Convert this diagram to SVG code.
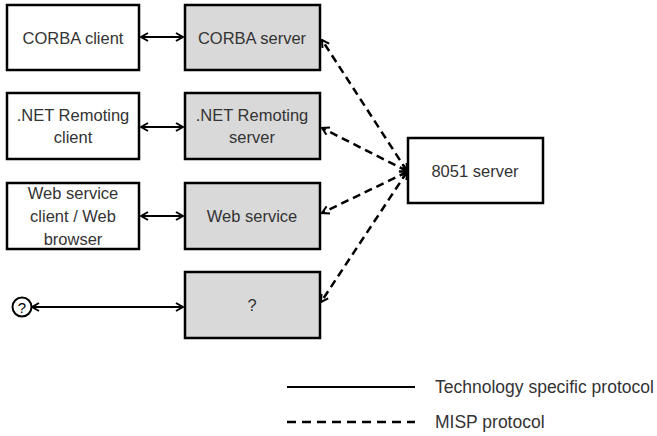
<svg xmlns="http://www.w3.org/2000/svg" width="657" height="436" viewBox="0 0 657 436">
<style>
.box{stroke:#000;stroke-width:2.5;fill:#fff}
.srv{fill:#d9d9d9}
.t{font-family:"Liberation Sans",Arial,sans-serif;font-size:16.5px;fill:#333;text-anchor:middle}
.tl{font-family:"Liberation Sans",Arial,sans-serif;font-size:17.5px;fill:#333}
.solid{stroke:#000;stroke-width:2.2;fill:none}
.dash{stroke:#000;stroke-width:2.5;fill:none;stroke-dasharray:8 5}
</style>
<defs>
<marker id="ah" viewBox="0 0 10 10" refX="9" refY="5" markerWidth="10" markerHeight="10" markerUnits="userSpaceOnUse" orient="auto-start-reverse">
<path d="M2,1 L9,5 L2,9" fill="none" stroke="#000" stroke-width="2"/>
</marker>
</defs>
<g id="corba-client"><rect class="box" x="7" y="5" width="132" height="65"/><text class="t" x="73" y="44">CORBA client</text></g>
<g id="corba-server"><rect class="box srv" x="185" y="5" width="135" height="65"/><text class="t" x="252" y="44">CORBA server</text></g>
<g id="net-client"><rect class="box" x="7" y="93" width="132" height="66"/><text class="t" x="73" y="121">.NET Remoting</text><text class="t" x="73" y="143">client</text></g>
<g id="net-server"><rect class="box srv" x="185" y="93" width="135" height="66"/><text class="t" x="252" y="121">.NET Remoting</text><text class="t" x="252" y="143">server</text></g>
<g id="web-client"><rect class="box" x="7" y="183" width="132" height="66"/><text class="t" x="73" y="199">Web service</text><text class="t" x="73" y="222">client / Web</text><text class="t" x="73" y="245">browser</text></g>
<g id="web-service"><rect class="box srv" x="185" y="183" width="135" height="66"/><text class="t" x="252" y="222">Web service</text></g>
<g id="unknown-server"><rect class="box srv" x="185" y="272" width="135" height="66"/><text class="t" x="252" y="311">?</text></g>
<g id="unknown-client"><circle cx="22" cy="307" r="9.5" fill="#fff" stroke="#000" stroke-width="2"/><text class="t" x="22" y="313" style="font-size:15px;fill:#000">?</text></g>
<g id="s8051"><rect class="box" x="408" y="138" width="135" height="65"/><text class="t" x="475" y="177">8051 server</text></g>
<g id="connectors">
<line class="solid" x1="141" y1="37" x2="183" y2="37" marker-start="url(#ah)" marker-end="url(#ah)"/>
<line class="solid" x1="141" y1="127" x2="183" y2="127" marker-start="url(#ah)" marker-end="url(#ah)"/>
<line class="solid" x1="141" y1="216" x2="183" y2="216" marker-start="url(#ah)" marker-end="url(#ah)"/>
<line class="solid" x1="32" y1="307" x2="183" y2="307" marker-start="url(#ah)" marker-end="url(#ah)"/>
<line class="dash" x1="407" y1="171" x2="322" y2="40" marker-start="url(#ah)" marker-end="url(#ah)"/>
<line class="dash" x1="407" y1="171" x2="322" y2="128" marker-start="url(#ah)" marker-end="url(#ah)"/>
<line class="dash" x1="407" y1="172" x2="322" y2="213" marker-start="url(#ah)" marker-end="url(#ah)"/>
<line class="dash" x1="407" y1="172" x2="321" y2="302" marker-start="url(#ah)" marker-end="url(#ah)"/>
</g>
<g id="legend">
<line class="solid" x1="287" y1="387" x2="415" y2="387"/>
<text class="tl" x="435" y="393">Technology specific protocol</text>
<line class="dash" x1="287" y1="422" x2="415" y2="422" style="stroke-dasharray:9 6"/>
<text class="tl" x="435" y="428">MISP protocol</text>
</g>
</svg>
